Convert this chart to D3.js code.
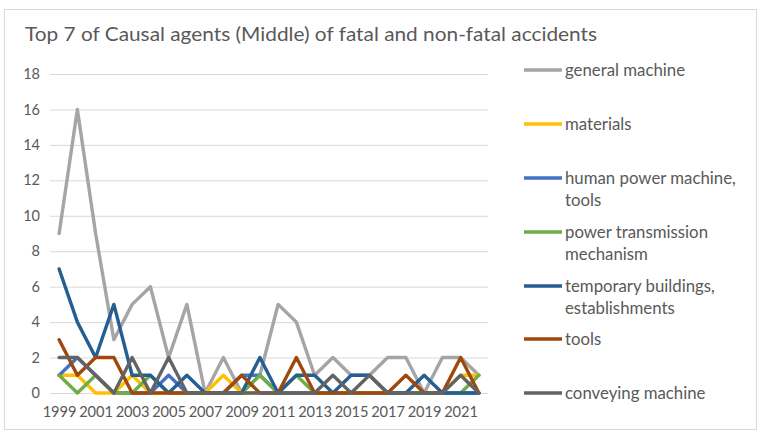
<!DOCTYPE html>
<html>
<head>
<meta charset="utf-8">
<script src="https://cdn.jsdelivr.net/npm/d3@7"></script>
<style>
  body { margin: 0; background: #fff; }
  text { font-family: Lato, "Open Sans", sans-serif; fill: #595959; }
</style>
</head>
<body>
<svg></svg>
<script>
const svg = d3.select("svg");
svg.attr("width", 760).attr("height", 435);

// years 1999 - 2022
const years = d3.range(1999, 2023);
const yTicks = [0, 2, 4, 6, 8, 10, 12, 14, 16, 18];
const xTickLabels = years.filter((y) => y % 2 === 1);

const seriesNames = [
  "general machine",
  "materials",
  "human power machine, tools",
  "power transmission mechanism",
  "temporary buildings, establishments",
  "tools",
  "conveying machine",
];
// legend labels wrapped like the original
const legendLines = [
  ["general machine"],
  ["materials"],
  ["human power machine,", "tools"],
  ["power transmission", "mechanism"],
  ["temporary buildings,", "establishments"],
  ["tools"],
  ["conveying machine"],
];
const colors = ["#A5A5A5", "#FFC000", "#4472C4", "#70AD47", "#255E91", "#9E480E", "#636363"];

const generalMachine = [9, 16, 9, 3, 5, 6, 2, 5, 0, 2, 0, 1, 5, 4, 1, 2, 1, 1, 2, 2, 0, 2, 2, 1];
const materials = [1, 1, 0, 0, 1, 0, 0, 0, 0, 1, 0, 0, 0, 0, 0, 0, 0, 0, 0, 0, 0, 0, 1, 1];
const humanPower = [1, 2, 1, 0, 0, 0, 1, 0, 0, 0, 1, 1, 0, 0, 0, 0, 0, 0, 0, 0, 0, 0, 0, 0];
const powerTransmission = [1, 0, 1, 0, 0, 1, 0, 0, 0, 0, 0, 1, 0, 1, 0, 0, 0, 0, 0, 0, 0, 0, 0, 1];
const temporaryBuildings = [7, 4, 2, 5, 1, 1, 0, 1, 0, 0, 0, 2, 0, 1, 1, 0, 1, 1, 0, 0, 1, 0, 0, 0];
const tools = [3, 1, 2, 2, 0, 0, 0, 0, 0, 0, 1, 0, 0, 2, 0, 0, 0, 0, 0, 1, 0, 0, 2, 0];
const conveyingMachine = [2, 2, 1, 0, 2, 0, 2, 0, 0, 0, 0, 0, 0, 0, 0, 1, 0, 1, 0, 0, 0, 0, 1, 0];

const seriesValues = [
  generalMachine,
  materials,
  humanPower,
  powerTransmission,
  temporaryBuildings,
  tools,
  conveyingMachine,
];

const margin = { left: 50, top: 74, right: 272, bottom: 42 };
const width = 760;
const height = 435;
const graphWidth = width - margin.left - margin.right;
const graphHeight = height - margin.top - margin.bottom;

// chart frame
svg.append("rect")
  .attr("x", 4.5).attr("y", 9.5)
  .attr("width", 752).attr("height", 420)
  .attr("fill", "#fff")
  .attr("stroke", "#d9d9d9");

svg.append("text")
  .attr("x", 25)
  .attr("y", 41)
  .attr("font-size", 19)
  .attr("textLength", 572)
  .attr("lengthAdjust", "spacingAndGlyphs")
  .text("Top 7 of Causal agents (Middle) of fatal and non-fatal accidents");

const g = svg.append("g").attr("transform", `translate(${margin.left}, ${margin.top})`);

const xScale = d3.scalePoint().domain(years).range([0, graphWidth]).padding(0.5);
const yScale = d3.scaleLinear().domain([0, 18]).range([graphHeight, 0]);

const yAxis = d3.axisLeft(yScale)
  .tickValues(yTicks)
  .tickSize(-graphWidth)
  .tickPadding(10);

const yAxisG = g.append("g").call(yAxis);
yAxisG.select(".domain").remove();
yAxisG.selectAll("line").attr("stroke", "#d9d9d9");
yAxisG.selectAll("text").attr("font-size", 14.5).attr("fill", "#595959").attr("font-family", "Lato, sans-serif");

const xAxis = d3.axisBottom(xScale)
  .tickValues(xTickLabels)
  .tickSize(0)
  .tickPadding(13);

const xAxisG = g.append("g").attr("transform", `translate(0, ${graphHeight})`).call(xAxis);
xAxisG.select(".domain").remove();
xAxisG.selectAll("text")
  .attr("font-size", 16)
  .attr("fill", "#595959")
  .attr("font-family", "Lato, sans-serif")
  .attr("textLength", 34)
  .attr("lengthAdjust", "spacingAndGlyphs");

const line = d3.line()
  .x((d, i) => xScale(years[i]))
  .y((d) => yScale(d));

seriesValues.forEach((values, k) => {
  g.append("path")
    .datum(values)
    .attr("fill", "none")
    .attr("stroke", colors[k])
    .attr("stroke-width", 3.4)
    .attr("stroke-linejoin", "round")
    .attr("stroke-linecap", "round")
    .attr("d", line);
});

// legend
const legendY = [70, 124, 178, 232, 286, 339, 393];
const legend = svg.append("g");
seriesNames.forEach((name, k) => {
  const item = legend.append("g").attr("transform", `translate(524, ${legendY[k]})`);
  item.append("line")
    .attr("x1", 0).attr("x2", 38)
    .attr("y1", 0).attr("y2", 0)
    .attr("stroke", colors[k])
    .attr("stroke-width", 3.4);
  legendLines[k].forEach((t, j) => {
    item.append("text")
      .attr("x", 41)
      .attr("y", j * 22.5)
      .attr("dy", "0.35em")
      .attr("font-size", 16.8)
      .text(t);
  });
});
</script>
</body>
</html>
